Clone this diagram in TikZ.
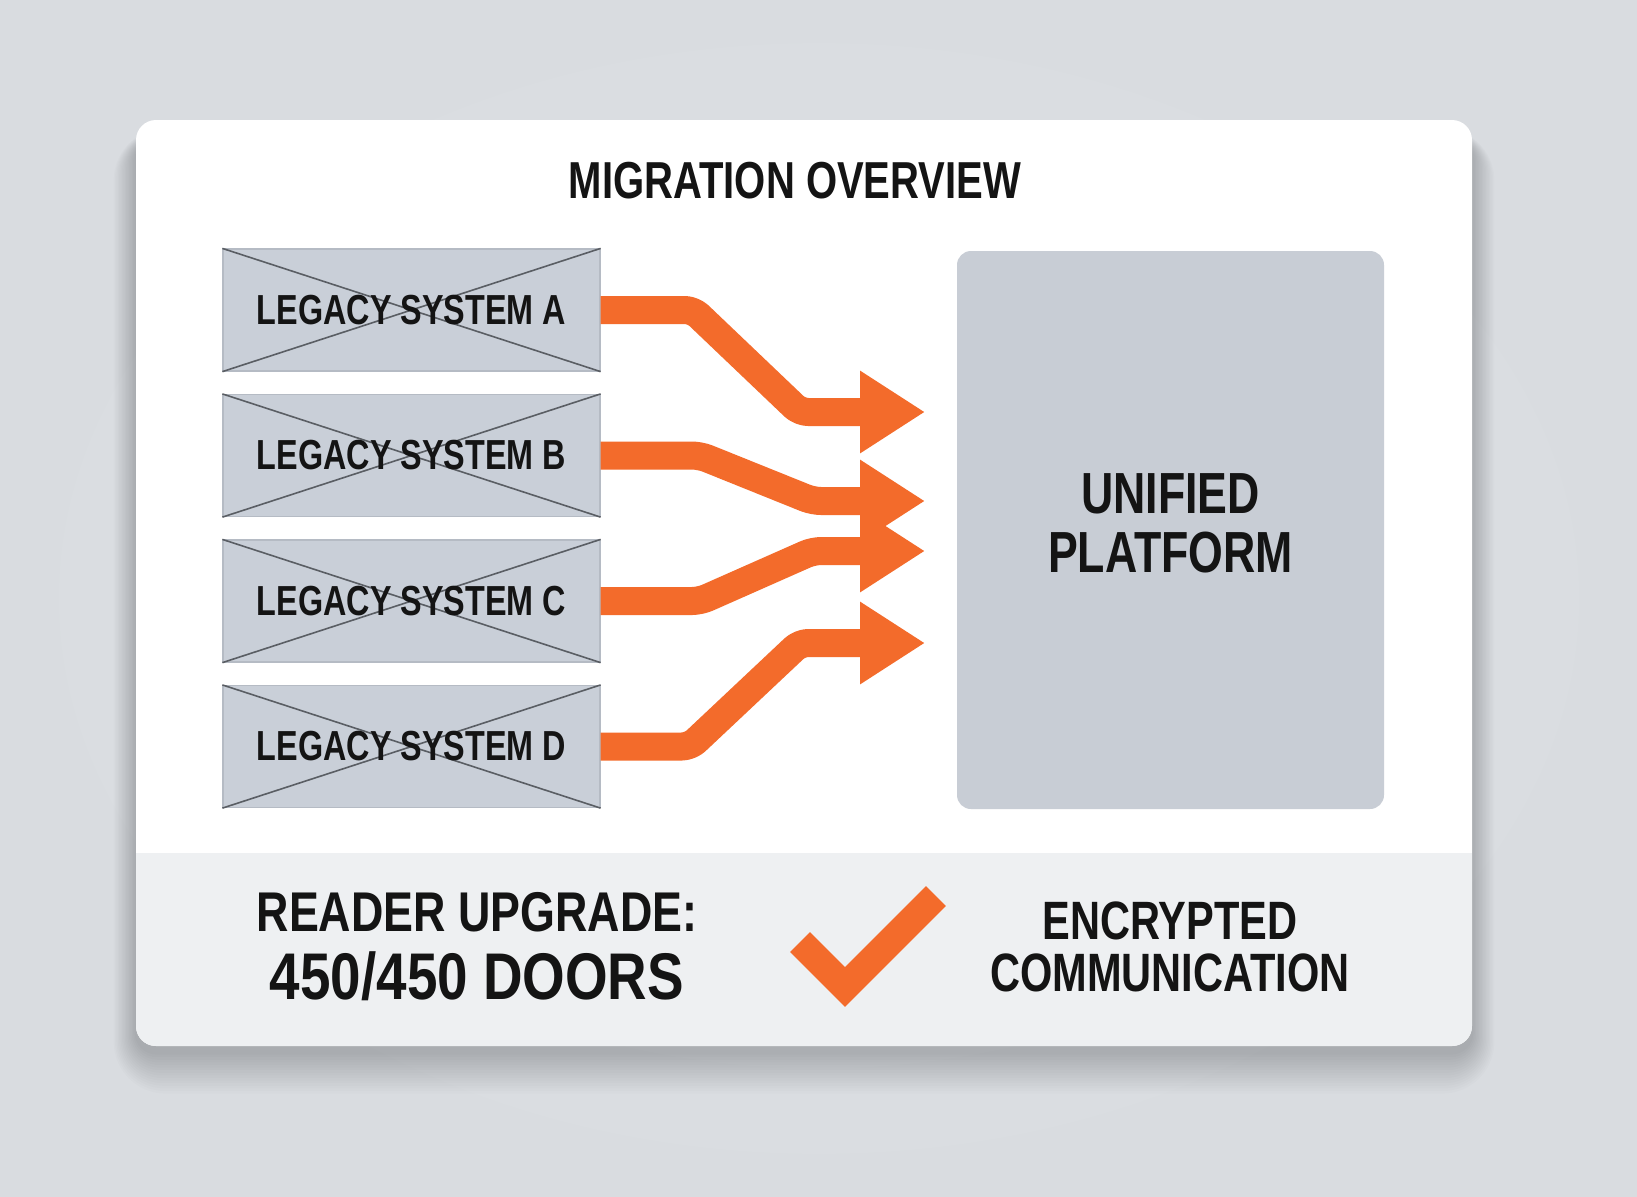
\documentclass[tikz,border=0pt]{standalone}
\usepackage{fontspec}
\setmainfont{Liberation Sans}[FakeStretch=0.77]
\newfontfamily\fontB{Liberation Sans}[FakeStretch=0.80]
\newfontfamily\fontC{Liberation Sans}[FakeStretch=0.83]
\usetikzlibrary{arrows.meta}
\definecolor{bgin}{HTML}{E0E3E7}
\definecolor{bgout}{HTML}{D9DCE0}
\definecolor{stripc}{HTML}{EEF0F2}
\definecolor{legacyc}{HTML}{C9CFD8}
\definecolor{legacyedge}{HTML}{B5BBC4}
\definecolor{xline}{HTML}{5A5E64}
\definecolor{unifiedc}{HTML}{C8CDD5}
\definecolor{orng}{HTML}{F36B2B}
\definecolor{ink}{HTML}{141414}
\tikzset{
  legacybox/.style={draw=legacyedge, line width=0.6pt, fill=legacyc, minimum width=188.5pt, minimum height=61pt, inner sep=0pt},
  xl/.style={draw=xline, line width=0.8pt},
  legacytext/.style={text=ink, font=\fontsize{21}{24}\selectfont\bfseries},
  arr/.style={draw=orng, line width=14pt, rounded corners=4pt, line join=round, -{Triangle[length=32.5pt,width=39pt]}},
}
\begin{document}
\begin{tikzpicture}[x=0.5pt,y=-0.5pt]
\shade[inner color=bgin, outer color=bgout] (0,0) rectangle (1637,1196);
\useasboundingbox (0,0) rectangle (1637,1196);
% card shadow
\foreach \i in {1,...,16}{
  \pgfmathsetmacro{\rr}{10+\i}
  \fill[black, opacity=0.013, rounded corners=\rr pt] (136-1.4*\i,120-0.6*\i+18) rectangle (1472+1.4*\i,1046+2.6*\i+6);
}
% card
\fill[white, rounded corners=10pt] (136,120) rectangle (1472,1046);
\begin{scope}
  \clip[rounded corners=10pt] (136,120) rectangle (1472,1046);
  \fill[stripc] (136,853) rectangle (1472,1046);
\end{scope}
% title
\node[text=ink, font=\fontsize{26}{30}\selectfont\bfseries] (title) at (795,181) {MIGRATION OVERVIEW};
% legacy boxes
\foreach \n/\yy/\lab in {la/310/A, lb/455.5/B, lc/601/C, ld/746.5/D}{
  \node[legacybox] (\n) at (411.5,\yy) {};
  \draw[xl] (\n.north west) -- (\n.south east);
  \draw[xl] (\n.south west) -- (\n.north east);
  \node[legacytext] (\n t) at (\n) {LEGACY SYSTEM \lab};
}
% unified platform
\node[fill=unifiedc, rounded corners=7pt, minimum width=213.5pt, minimum height=279pt, inner sep=0pt] (up) at (1170.5,530) {};
\node[text=ink, align=center, font=\fontsize{29}{29.5}\selectfont\bfseries] (upt) at (1170.5,523.5) {UNIFIED\\PLATFORM};
% arrow targets
\coordinate (ta) at (925,412);
\coordinate (tb) at (925,501);
\coordinate (tc) at (925,551);
\coordinate (td) at (925,643);
\draw[arr] (la.east) -- (693,310) -- (800,412) -- (ta);
\draw[arr] (lb.east) -- (700,455.5) -- (813,501) -- (tb);
\draw[arr] (lc.east) -- (700,601) -- (813,551) -- (tc);
\draw[arr] (ld.east) -- (690,746.5) -- (800,643) -- (td);
% bottom strip
\node[text=ink, font=\fontB\fontsize{28}{30}\selectfont\bfseries] (rd1) at (477,912) {READER UPGRADE:};
\node[text=ink, font=\fontC\fontsize{33}{36}\selectfont\bfseries] (rd2) at (477,976) {450/450 DOORS};
\draw[orng, line width=14pt, line join=miter] (800,942) -- (845,987) -- (936,896);
\node[text=ink, align=center, font=\fontsize{27}{26}\selectfont\bfseries] (enc) at (1170,947) {ENCRYPTED\\COMMUNICATION};
\end{tikzpicture}
\end{document}
